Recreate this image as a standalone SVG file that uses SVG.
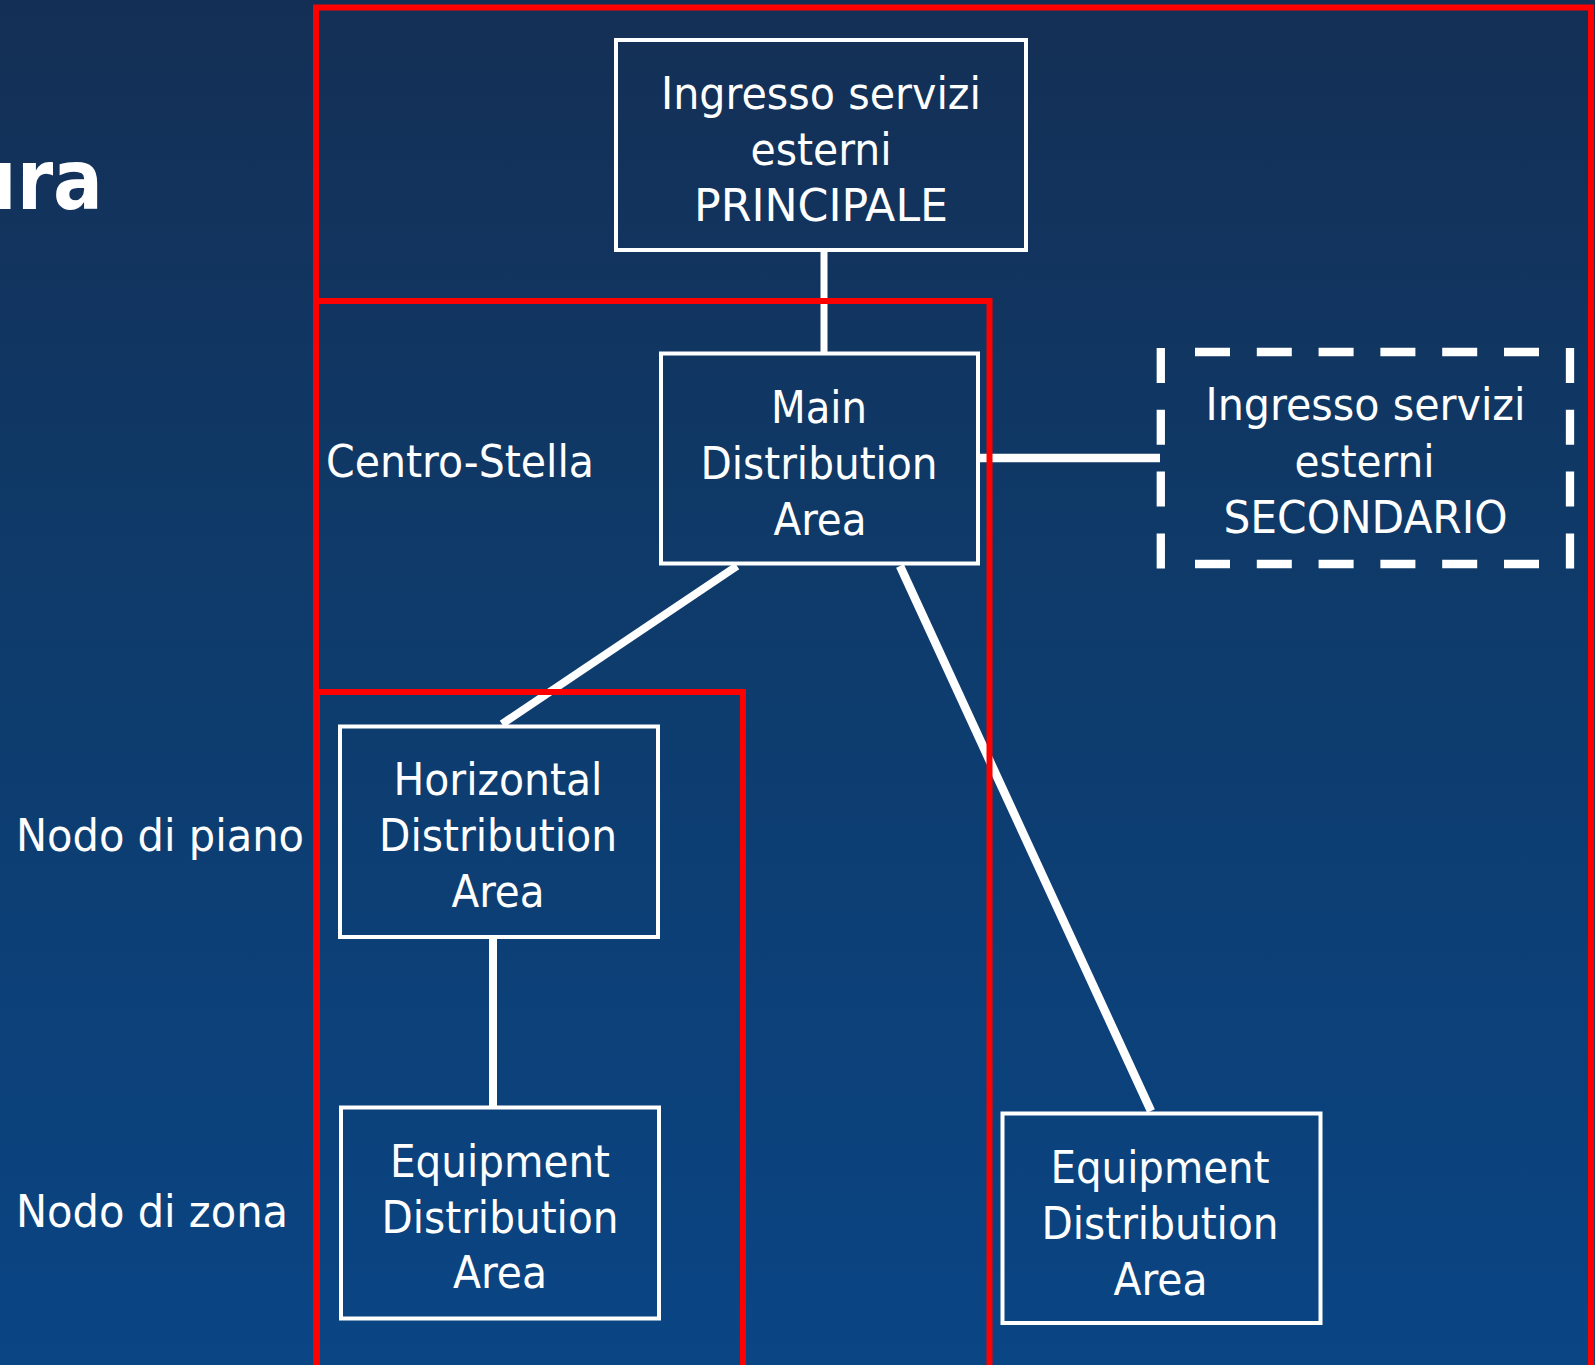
<svg xmlns="http://www.w3.org/2000/svg" width="1595" height="1365" viewBox="0 0 1595 1365">
  <defs>
    <linearGradient id="bg" x1="0" y1="0" x2="0" y2="1">
      <stop offset="0" stop-color="#142F55"/>
      <stop offset="0.45" stop-color="#0E3B6B"/>
      <stop offset="1" stop-color="#0A4584"/>
    </linearGradient>
    <style>
      .box { fill: none; stroke: #FFFFFF; stroke-width: 4; }
      .dash { stroke: #FFFFFF; stroke-width: 8.3; fill: none; stroke-dasharray: 35 26.8; }
      .conn { stroke: #FFFFFF; fill: none; }
      .frame { fill: none; stroke: #FF0000; stroke-width: 6; }
      .t { font-family: "DejaVu Sans Condensed", "DejaVu Sans", sans-serif; font-stretch: condensed; font-size: 44px; fill: #FFFFFF; }
      .c { text-anchor: middle; }
      .title { font-family: "DejaVu Sans Condensed", "DejaVu Sans", sans-serif; font-stretch: condensed; font-weight: bold; font-size: 84px; fill: #FFFFFF; }
    </style>
  </defs>

  <rect x="0" y="0" width="1595" height="1365" fill="url(#bg)"/>

  <text class="title" x="-36" y="209" textLength="139" lengthAdjust="spacingAndGlyphs">ura</text>

  <g id="labels">
    <text class="t" x="326" y="477" textLength="268" lengthAdjust="spacingAndGlyphs">Centro-Stella</text>
    <text class="t" x="16" y="851" textLength="288" lengthAdjust="spacingAndGlyphs">Nodo di piano</text>
    <text class="t" x="16" y="1227" textLength="272" lengthAdjust="spacingAndGlyphs">Nodo di zona</text>
  </g>

  <g id="connectors">
    <line class="conn" x1="824" y1="250" x2="824" y2="354" stroke-width="7"/>
    <line class="conn" x1="977" y1="458" x2="1160" y2="458" stroke-width="8.3"/>
    <line class="conn" x1="737" y1="566" x2="502" y2="724" stroke-width="8"/>
    <line class="conn" x1="900" y1="566" x2="1151" y2="1111" stroke-width="8.5"/>
    <line class="conn" x1="493" y1="937" x2="493" y2="1107" stroke-width="8"/>
  </g>

  <g id="node-principale">
    <rect class="box" x="616" y="40" width="410" height="210"/>
    <text class="t c" x="821" y="109" textLength="320" lengthAdjust="spacingAndGlyphs">Ingresso servizi</text>
    <text class="t c" x="821" y="165" textLength="141" lengthAdjust="spacingAndGlyphs">esterni</text>
    <text class="t c" x="821" y="221" textLength="254" lengthAdjust="spacingAndGlyphs">PRINCIPALE</text>
  </g>

  <g id="node-mda">
    <rect class="box" x="661" y="353.5" width="317" height="210"/>
    <text class="t c" x="819" y="423" textLength="96" lengthAdjust="spacingAndGlyphs">Main</text>
    <text class="t c" x="819" y="479" textLength="237" lengthAdjust="spacingAndGlyphs">Distribution</text>
    <text class="t c" x="820" y="535" textLength="93" lengthAdjust="spacingAndGlyphs">Area</text>
  </g>

  <g id="node-secondario">
    <line class="dash" x1="1160.8" y1="348" x2="1160.8" y2="569"/>
    <line class="dash" x1="1570" y1="348" x2="1570" y2="569"/>
    <line class="dash" x1="1195" y1="352" x2="1539" y2="352"/>
    <line class="dash" x1="1195" y1="564" x2="1539" y2="564"/>
    <text class="t c" x="1365.5" y="420" textLength="320" lengthAdjust="spacingAndGlyphs">Ingresso servizi</text>
    <text class="t c" x="1364.5" y="477" textLength="140" lengthAdjust="spacingAndGlyphs">esterni</text>
    <text class="t c" x="1365.5" y="533" textLength="284" lengthAdjust="spacingAndGlyphs">SECONDARIO</text>
  </g>

  <g id="node-hda">
    <rect class="box" x="340" y="726.5" width="318" height="210.5"/>
    <text class="t c" x="498" y="795" textLength="209" lengthAdjust="spacingAndGlyphs">Horizontal</text>
    <text class="t c" x="498" y="851" textLength="238" lengthAdjust="spacingAndGlyphs">Distribution</text>
    <text class="t c" x="498" y="907" textLength="93" lengthAdjust="spacingAndGlyphs">Area</text>
  </g>

  <g id="node-eda-left">
    <rect class="box" x="341" y="1107.5" width="318" height="211"/>
    <text class="t c" x="500" y="1177" textLength="220" lengthAdjust="spacingAndGlyphs">Equipment</text>
    <text class="t c" x="500" y="1233" textLength="237" lengthAdjust="spacingAndGlyphs">Distribution</text>
    <text class="t c" x="500" y="1288" textLength="94" lengthAdjust="spacingAndGlyphs">Area</text>
  </g>

  <g id="node-eda-right">
    <rect class="box" x="1002.5" y="1113.5" width="318" height="209.5"/>
    <text class="t c" x="1160" y="1183" textLength="219" lengthAdjust="spacingAndGlyphs">Equipment</text>
    <text class="t c" x="1160" y="1239" textLength="237" lengthAdjust="spacingAndGlyphs">Distribution</text>
    <text class="t c" x="1160.5" y="1295" textLength="94" lengthAdjust="spacingAndGlyphs">Area</text>
  </g>

  <g id="frames">
    <rect class="frame" x="316" y="7.5" width="1275" height="1400"/>
    <rect class="frame" x="316" y="301" width="673.5" height="1200"/>
    <rect class="frame" x="317" y="692" width="426" height="800"/>
  </g>
</svg>
